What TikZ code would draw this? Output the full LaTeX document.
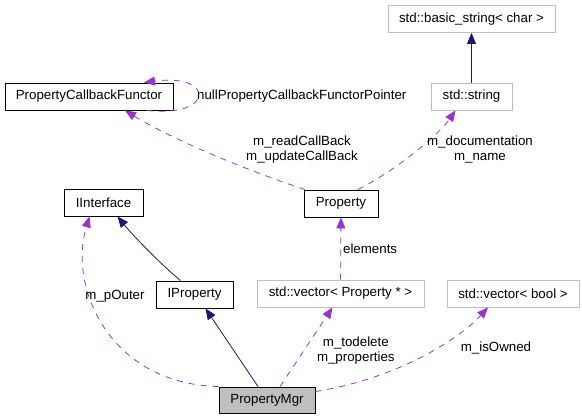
\documentclass[tikz,border=0pt]{standalone}
\usepackage{fontspec}
\setmainfont{Liberation Sans}
\usepackage{tikz}
\usetikzlibrary{arrows.meta,calc}

\definecolor{inhcol}{HTML}{191970}
\definecolor{usecol}{HTML}{9A32CD}
\definecolor{extcol}{HTML}{BFBFBF}

\tikzset{
    cls/.style={draw=black, line width=0.9pt, minimum height=27pt, inner sep=0pt},
    extcls/.style={cls, draw=extcol},
    mgrcls/.style={cls, fill=extcol},
    inh/.style={->, draw=inhcol, line width=0.8pt},
    use/.style={->, draw=usecol, line width=0.8pt, dash pattern=on 6pt off 6pt},
    lbl/.style={align=center, inner sep=1pt}
}

\begin{document}
\begin{tikzpicture}[x=1pt, y=1pt, >={Triangle[length=11pt,width=9pt]}, font=\fontsize{13.3}{15}\selectfont] % 以像素为单位
    \useasboundingbox (0,0) rectangle (582,418);

    % 类框
    \node[extcls, minimum width=167pt] (bstr) at (471.5,399) {std::basic\_string< char >};
    \node[extcls, minimum width=81pt] (str) at (471.5,321.5) {std::string};
    \node[cls, minimum width=168pt] (pcf) at (89,321.5) {PropertyCallbackFunctor};
    \node[cls, minimum width=74pt] (prop) at (341,214.5) {Property};
    \node[cls, minimum width=79pt] (iif) at (103.5,215.5) {IInterface};
    \node[cls, minimum width=77pt] (iprop) at (194.5,123.5) {IProperty};
    \node[extcls, minimum width=167pt] (vecp) at (340.5,124.5) {std::vector< Property * >};
    \node[extcls, minimum width=132pt] (vecb) at (513,124.5) {std::vector< bool >};
    \node[mgrcls, minimum width=96pt, minimum height=26pt] (mgr) at (267,18) {PropertyMgr};

    % 继承关系
    \draw[inh] (str) -- (bstr);
    \draw[inh] ([xshift=-14pt]iprop.north) .. controls (165,150) and (135,180) .. ([xshift=14pt]iif.south);
    \draw[inh] ([xshift=-9pt]mgr.north) -- ([xshift=11pt]iprop.south);

    % 成员关系
    \draw[use] (vecp) -- node[lbl, right=1pt, pos=0.5] {elements} (prop);
    \draw[use] ([xshift=13pt]mgr.north) -- node[lbl, right=12pt, pos=0.45] {m\_todelete\\m\_properties} ([xshift=-8pt]vecp.south);
    \draw[use] ([yshift=-5pt]mgr.north east) .. controls (400,40) and (460,80) .. ([xshift=-25pt]vecb.south);
    \node[lbl] (isown) at (496,70) {m\_isOwned};
    \draw[use] (mgr.north west) .. controls (110,34) and (68,130) .. ([xshift=-14pt]iif.south);
    \node[lbl] (outer) at (115,122) {m\_pOuter};
    \draw[use] ([xshift=-36pt]prop.north) .. controls (240,250) and (170,280) .. ([xshift=36pt]pcf.south);
    \node[lbl] (cb) at (302,268) {m\_readCallBack\\m\_updateCallBack};
    \draw[use] ([xshift=17pt]prop.north) .. controls (400,250) and (440,285) .. ([xshift=-16pt]str.south);
    \node[lbl] (docname) at (480,268) {m\_documentation\\m\_name};
    \draw[use] ([xshift=58pt]pcf.south) .. controls (215,300) and (215,345) .. ([xshift=55pt]pcf.north);
    \node[lbl, anchor=west] (nullptr) at (196,321.5) {nullPropertyCallbackFunctorPointer};
\end{tikzpicture}
\end{document}
